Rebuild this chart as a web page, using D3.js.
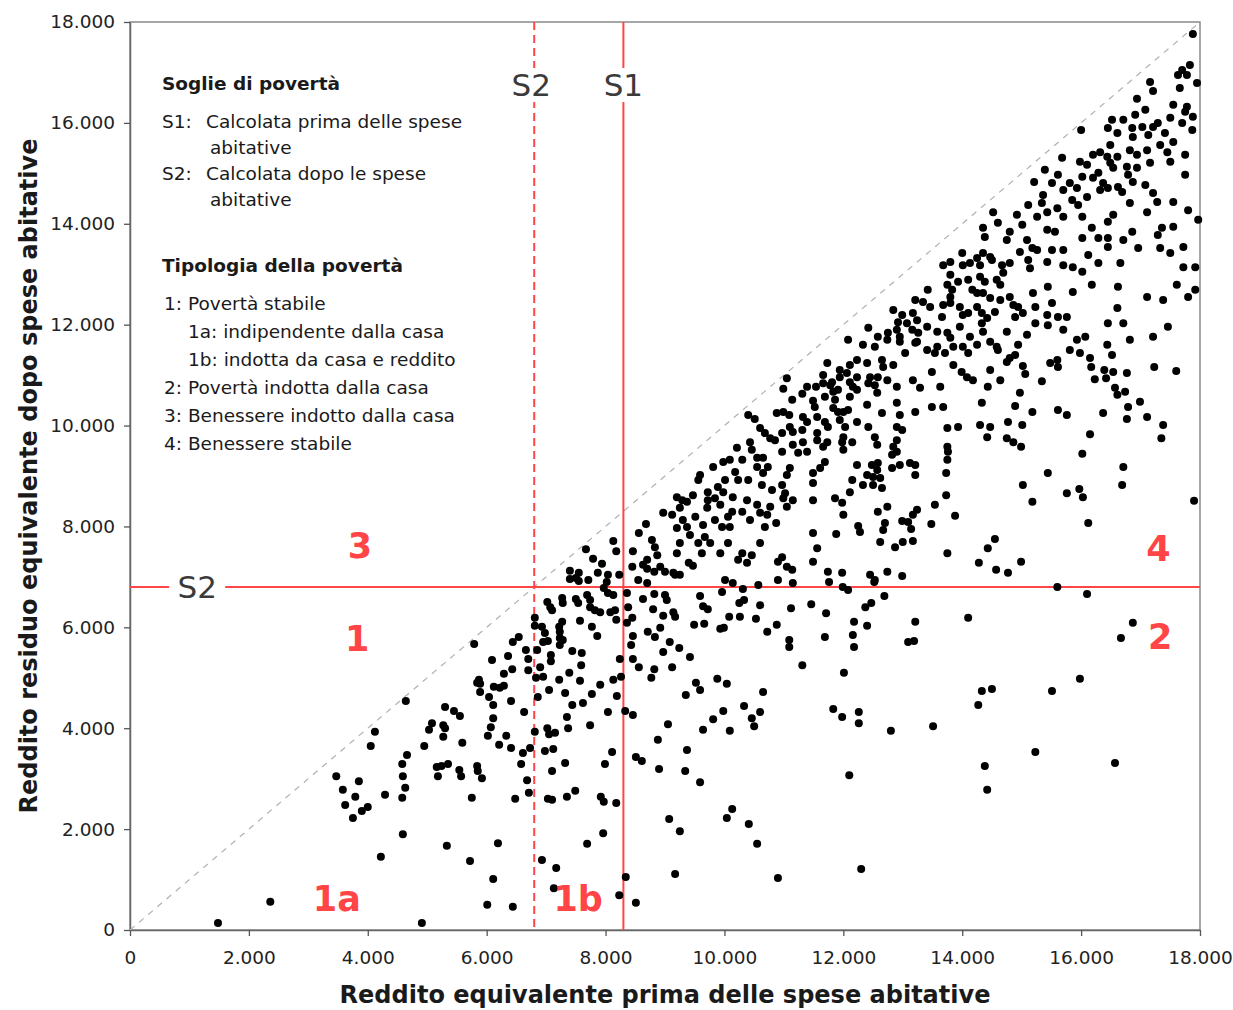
<!DOCTYPE html>
<html><head><meta charset="utf-8">
<script src="https://cdn.jsdelivr.net/npm/d3@7"></script>
<style>
body{margin:0;background:#fff}
text{font-family:"DejaVu Sans",Verdana,sans-serif}
</style>
</head><body>
<svg id="chart" width="1233" height="1010"></svg>
<script>
// ---- data (point values in thousands of euro) ----
const xTicks = [0,2000,4000,6000,8000,10000,12000,14000,16000,18000];
const yTicks = [0,2000,4000,6000,8000,10000,12000,14000,16000,18000];
const thresholdS1 = 8300;   // before housing costs
const thresholdS2 = 6800;   // after housing costs
const xTitle = "Reddito equivalente prima delle spese abitative";
const yTitle = "Reddito residuo equivalente dopo spese abitative";
const regionLabels = [
  {t:"3",x:3870,y:7630},{t:"4",x:17300,y:7570},{t:"1",x:3820,y:5790},
  {t:"2",x:17330,y:5830},{t:"1a",x:3480,y:630},{t:"1b",x:7540,y:630}
];
const legendLines = [
  {t:"Soglie di povertà",b:true,x:162,y:83},
  {t:"S1:",x:162,y:121},{t:"Calcolata prima delle spese",x:206,y:121},{t:"abitative",x:210,y:147},
  {t:"S2:",x:162,y:173},{t:"Calcolata dopo le spese",x:206,y:173},{t:"abitative",x:210,y:199},
  {t:"Tipologia della povertà",b:true,x:162,y:265},
  {t:"1: Povertà stabile",x:164,y:303},
  {t:"1a: indipendente dalla casa",x:188,y:331},
  {t:"1b: indotta da casa e reddito",x:188,y:359},
  {t:"2: Povertà indotta dalla casa",x:164,y:387},
  {t:"3: Benessere indotto dalla casa",x:164,y:415},
  {t:"4: Benessere stabile",x:164,y:443}
];
const points = [
[5.79,5.67],[6.09,5.35],[6.36,5.43],[6.44,5.71],[6.54,5.81],[6.66,5.55],[6.70,5.37],[6.70,5.15],[6.43,5.17],[6.29,5.08],[5.87,4.96],[5.89,4.88],[5.84,4.90],[5.89,4.72],[6.12,4.82],[6.22,4.80],[6.29,4.84],[6.04,4.62],[6.11,4.46],[6.41,4.54],[6.63,4.32],[6.11,4.20],[6.07,4.02],[6.02,3.85],[6.33,3.85],[6.21,3.67],[6.41,3.61],[6.61,3.51],[6.73,3.61],[6.58,3.29],[6.68,2.97],[6.71,2.72],[6.48,2.60],[5.75,2.62],[5.59,3.71],[5.30,4.42],[5.45,4.34],[5.55,4.24],[5.08,4.10],[5.03,3.97],[5.27,4.06],[5.30,4.00],[5.27,3.83],[4.95,3.65],[4.64,4.54],[4.12,3.93],[4.05,3.65],[4.66,3.47],[4.58,3.29],[4.59,3.05],[4.63,2.82],[4.58,2.62],[4.29,2.68],[5.16,3.23],[5.24,3.25],[5.18,3.05],[5.35,3.29],[5.54,3.17],[5.57,3.05],[5.84,3.25],[5.85,3.15],[5.92,3.01],[3.47,3.05],[3.85,2.95],[3.58,2.78],[3.79,2.64],[3.62,2.48],[3.90,2.36],[4.00,2.44],[3.75,2.22],[4.59,1.90],[4.22,1.45],[5.33,1.67],[5.72,1.37],[6.19,1.72],[6.11,1.01],[6.01,0.50],[6.44,0.46],[4.91,0.14],[6.93,1.39],[6.98,5.89],[6.93,6.01],[7.03,5.73],[6.85,5.55],[6.90,5.21],[6.83,5.00],[6.86,4.62],[6.81,3.93],[7.02,4.00],[7.05,3.88],[6.98,3.55],[7.03,2.60],[7.05,4.76],[1.48,0.14],[2.36,0.56],
[7.12,3.59],[7.10,3.15],[7.32,3.31],[7.10,2.58],[7.35,2.64],[7.49,2.76],[8.11,3.53],[7.99,3.29],[7.92,2.64],[7.97,2.54],[8.18,2.52],[7.96,1.92],[7.69,1.71],[8.51,3.43],[8.61,3.35],[8.88,3.77],[9.37,3.57],[8.90,3.19],[9.34,3.15],[9.59,2.93],[9.07,2.20],[9.25,1.96],[10.04,2.22],[10.13,2.40],[10.41,2.10],[10.55,1.71],[10.90,1.03],[9.17,1.11],[8.34,1.05],[8.23,0.69],[8.51,0.54],[7.17,1.23],[7.13,0.83],[12.10,3.07],[12.30,1.21],[14.38,3.25],[14.42,2.78],
[16.87,6.09],[16.67,5.79],[15.98,4.98],[15.51,4.74],[15.23,3.53],[16.57,3.31],
[10.01,6.94],[10.14,6.88],[10.31,6.76],[10.57,6.84],[10.90,6.94],[11.15,6.88],[11.76,6.90],[11.99,6.80],[12.08,6.74],[12.52,6.90],[9.96,6.70],[9.59,6.62],[9.64,6.42],[9.72,6.36],[10.25,6.48],[10.33,6.54],[10.60,6.44],[11.12,6.38],[11.46,6.46],[11.71,6.28],[12.37,6.40],[12.47,6.48],[12.69,6.62],[10.08,6.21],[10.26,6.21],[10.53,6.17],[9.66,6.07],[9.93,5.97],[9.99,5.99],[10.72,5.91],[10.88,6.05],[11.09,5.75],[11.09,5.61],[11.69,5.81],[12.18,6.11],[12.40,6.03],[12.16,5.85],[12.18,5.61],[13.21,6.11],[13.09,5.71],[13.19,5.73],[14.10,6.19],[11.31,5.25],[12.01,5.10],[9.88,4.98],[10.04,4.88],[9.59,4.76],[10.65,4.72],[10.33,4.44],[9.98,4.34],[9.81,4.18],[10.46,4.20],[10.50,4.04],[10.60,4.32],[9.64,3.97],[10.09,3.95],[11.83,4.38],[11.98,4.22],[12.26,4.32],[12.26,4.10],[12.80,3.95],[13.51,4.04],[14.33,4.74],[14.50,4.78],[14.27,4.46],
[7.40,7.12],[7.55,7.08],[7.50,6.98],[7.71,6.94],[7.87,7.08],[7.94,7.26],[8.04,7.04],[8.02,6.90],[8.23,7.04],[8.45,7.20],[8.63,7.24],[8.70,7.16],[8.55,6.94],[8.82,7.10],[8.92,7.20],[8.70,6.88],[9.14,7.08],[9.25,7.04],[9.40,7.28],[9.47,7.22],[7.97,6.78],[8.04,6.68],[8.13,6.64],[8.36,6.68],[7.69,6.64],[7.74,6.54],[7.27,6.58],[7.28,6.48],[7.02,6.50],[7.07,6.40],[7.10,6.34],[7.50,6.56],[7.54,6.48],[7.74,6.40],[7.82,6.34],[7.91,6.30],[8.08,6.30],[8.16,6.34],[8.18,6.15],[7.57,6.13],[7.27,6.11],[7.22,6.01],[7.23,5.91],[6.81,6.19],[6.81,6.03],[7.23,5.79],[7.28,5.75],[7.23,5.65],[6.95,5.71],[7.77,6.01],[7.86,5.83],[8.38,6.40],[8.45,6.19],[8.36,6.09],[8.63,6.56],[8.82,6.66],[9.00,6.64],[9.03,6.54],[8.80,6.36],[9.14,6.30],[9.17,6.21],[8.97,6.23],[8.71,5.91],[8.83,5.81],[8.92,5.99],[9.49,6.05],[8.46,5.83],[8.43,5.65],[9.08,5.71],[9.24,5.59],[8.97,5.51],[9.42,5.41],[8.46,5.37],[8.24,5.37],[8.56,5.21],[8.82,5.17],[9.12,5.21],[8.77,5.00],[9.52,4.90],[9.35,4.66],[6.95,5.02],[7.08,5.45],[7.08,5.33],[7.44,5.53],[7.60,5.49],[7.59,5.25],[7.39,5.10],[7.22,4.96],[7.57,4.94],[7.32,4.70],[7.77,4.68],[7.91,4.86],[8.13,4.96],[8.26,5.02],[8.19,4.64],[7.44,4.46],[7.62,4.50],[8.04,4.32],[8.33,4.34],[8.46,4.26],[7.35,4.22],[7.74,4.06],[7.37,4.00],[7.15,3.91],[9.05,4.08],
[7.67,7.55],[8.13,7.71],[8.18,7.51],[7.79,7.36],[7.40,6.96],[7.55,6.92],[8.46,7.51],[8.56,7.87],[8.68,8.05],[8.70,7.34],
[10.99,10.73],[11.39,10.77],[11.54,10.77],[11.66,10.84],[11.78,10.80],[11.69,10.57],[11.49,10.49],[11.31,10.63],[11.14,10.51],[11.86,10.51],[11.83,10.35],[11.91,10.27],[12.00,10.27],[11.83,10.67],[10.40,10.21],[10.51,10.13],[10.88,10.25],[10.99,10.27],[11.09,10.21],[11.32,10.17],[11.39,10.07],[11.56,10.17],[11.69,10.07],[11.74,9.97],[11.94,10.11],[12.03,9.97],[10.60,9.95],[10.68,9.85],[10.77,9.75],[10.85,9.71],[10.97,9.85],[11.10,9.97],[11.15,9.87],[11.31,9.91],[11.56,9.85],[11.56,9.71],[11.73,9.67],[11.98,9.67],[12.00,9.52],[10.43,9.67],[10.46,9.52],[10.21,9.56],[11.15,9.62],[11.32,9.67],[10.97,9.48],[11.24,9.46],[11.39,9.48],[10.55,9.36],[10.65,9.36],[9.98,9.28],[10.09,9.32],[10.30,9.32],[10.73,9.18],[10.55,9.18],[9.81,9.18],[10.18,9.08],[10.65,9.06],[11.10,9.16],[11.05,9.02],[11.61,9.16],[11.49,9.06],[11.69,9.28],[9.59,9.02],[9.56,8.92],[10.01,8.92],[10.23,8.92],[10.40,8.92],[9.89,8.78],[9.98,8.68],[9.72,8.68],[10.63,8.82],[10.80,8.72],[10.97,8.82],[11.02,8.66],[10.99,8.56],[11.49,8.86],[9.20,8.58],[9.29,8.52],[9.37,8.49],[9.47,8.62],[9.72,8.52],[9.84,8.56],[10.14,8.58],[9.93,8.43],[10.38,8.52],[10.55,8.43],[10.60,8.27],[10.77,8.39],[10.30,8.29],[10.43,8.13],[10.13,8.29],[11.05,8.39],[11.15,8.52],[11.49,8.52],[11.86,8.56],[11.98,8.47],[12.00,8.23],[8.97,8.27],[9.12,8.23],[9.25,8.37],[9.30,8.13],[9.51,8.19],[9.71,8.37],[9.84,8.13],[9.96,7.99],[10.06,8.19],[10.09,7.99],[10.72,8.23],[10.68,7.99],[10.87,8.07],[9.20,7.97],[9.37,7.99],[9.64,8.03],[9.67,7.79],[9.42,7.83],[8.78,7.73],[8.83,7.59],[9.25,7.67],[9.20,7.47],[9.56,7.67],[9.76,7.67],[10.06,7.67],[9.93,7.47],[9.62,7.47],[10.30,7.47],[10.23,7.34],[10.38,7.28],[10.46,7.43],[10.60,7.67],[10.97,7.39],[10.90,7.30],[11.05,7.20],[11.14,7.14],[11.49,7.87],[11.88,7.85],[11.56,7.57],[11.49,7.30],[11.74,7.10],[11.98,7.08],[9.00,7.10],[9.17,7.04],[8.87,7.43],
[12.23,9.22],[12.48,9.22],[12.58,9.26],[12.57,9.12],[12.40,9.02],[12.50,8.98],[12.62,8.96],[12.15,8.92],[12.33,8.82],[12.50,8.82],[12.65,8.76],[12.11,8.68],[12.82,9.42],[12.90,9.48],[12.82,9.16],[12.95,9.22],[13.12,9.26],[13.21,9.22],[13.21,9.02],[13.76,9.48],[13.75,9.32],[13.73,9.06],[13.73,8.62],[13.54,8.43],[13.88,8.21],[12.58,8.29],[12.74,8.39],[13.24,8.33],[13.17,8.23],[13.09,8.09],[13.14,7.95],[12.99,8.11],[13.48,8.05],[12.25,8.01],[12.28,7.89],[12.70,8.07],[12.67,7.93],[12.62,7.69],[12.87,7.59],[13.00,7.69],[13.17,7.71],[13.75,7.47],[14.55,7.75],[14.43,7.57],[14.28,7.28],[14.57,7.14],[12.74,7.10],[12.99,7.02],[12.45,7.04],[12.53,6.94],
[14.75,11.26],[14.80,11.34],[14.89,11.40],[15.02,11.18],[15.06,11.02],[14.64,10.90],[15.34,10.88],[15.48,11.24],[15.60,11.30],[15.61,11.16],[15.81,11.50],[15.98,11.44],[16.15,11.34],[16.17,11.16],[16.23,10.92],[16.39,11.10],[16.42,10.94],[16.52,11.40],[16.54,11.06],[16.77,11.04],[16.57,10.75],[16.74,10.67],[16.61,10.61],[16.99,10.47],[16.79,10.37],[16.77,10.13],[17.11,10.17],[17.23,11.16],[17.60,11.08],[17.38,10.01],[17.35,9.75],[16.37,10.25],[16.15,9.83],[16.02,9.44],[14.97,10.65],[14.89,10.39],[15.18,10.27],[15.61,10.31],[15.76,10.21],[14.77,10.07],[15.01,10.01],[14.75,9.75],[14.86,9.67],[14.99,9.58],[15.44,9.06],[15.02,8.82],[15.18,8.49],[15.76,8.66],[15.97,8.74],[16.03,8.58],[16.71,9.18],[16.69,8.82],[16.12,8.07],[17.90,8.51],[14.99,7.30],[14.77,7.08],[15.60,6.80],[16.10,6.66],
[14.00,13.42],[13.68,13.18],[13.80,13.24],[14.01,13.18],[14.13,13.22],[14.25,13.32],[14.35,13.42],[14.47,13.34],[13.80,12.99],[13.75,12.79],[13.83,12.69],[14.10,12.89],[14.30,12.95],[14.38,12.85],[14.17,12.69],[14.35,12.63],[14.47,12.53],[14.58,12.89],[13.42,12.69],[13.21,12.49],[13.34,12.45],[13.46,12.35],[13.66,12.15],[13.80,12.43],[13.96,12.35],[14.01,12.19],[14.25,12.35],[14.33,12.23],[14.42,12.13],[12.84,12.29],[12.92,12.05],[13.17,12.23],[13.24,12.09],[13.07,12.03],[13.16,11.90],[13.41,11.96],[13.75,11.84],[13.80,11.74],[13.96,11.96],[14.13,11.76],[14.35,11.86],[14.01,11.56],[14.10,11.44],[14.47,11.66],[12.42,11.94],[12.58,11.76],[12.75,11.84],[12.74,11.70],[12.90,11.90],[12.95,11.66],[13.24,11.66],[13.41,11.50],[13.58,11.56],[13.71,11.44],[12.08,11.70],[12.33,11.60],[12.53,11.56],[13.04,11.44],[13.54,11.44],[11.73,11.24],[12.23,11.30],[12.40,11.24],[12.65,11.30],[12.67,11.16],[12.84,11.20],[11.94,11.10],[12.06,11.04],[12.11,11.20],[11.66,11.00],[11.81,10.86],[11.94,10.96],[12.23,10.96],[12.45,10.96],[12.58,10.96],[12.74,10.90],[12.11,10.86],[12.16,10.77],[12.23,10.71],[12.42,10.84],[12.53,10.80],[11.05,10.94],[11.91,10.71],[12.11,10.57],[12.57,10.65],[12.90,10.77],[13.17,10.90],[13.29,10.75],[13.49,11.06],[13.63,10.77],[13.85,11.20],[13.99,11.06],[14.08,10.96],[14.18,10.90],[14.43,10.77],[14.47,11.10],[14.60,11.50],[11.52,10.37],[12.08,10.31],[12.40,10.41],[12.23,10.07],[12.42,9.97],[12.65,10.25],[12.90,10.45],[12.95,10.21],[12.90,9.97],[13.21,10.27],[13.49,10.37],[13.68,10.37],[14.33,10.45],[14.30,10.01],[14.47,9.97],[14.42,9.77],[13.93,9.97],[13.75,9.95],[12.99,9.91],[12.90,9.71],[12.84,9.58],[12.53,9.77],[12.57,9.62],[11.66,9.58],[12.00,9.77],[12.15,9.67],[13.75,9.58],
[15.68,15.31],[15.39,15.07],[15.61,14.97],[15.21,14.83],[15.51,14.81],[15.81,14.81],[15.93,14.71],[16.02,14.93],[15.98,15.23],[16.10,15.17],[16.20,15.37],[16.32,15.42],[16.44,15.33],[16.49,15.21],[16.54,15.11],[16.29,15.01],[16.37,14.81],[16.45,14.71],[16.69,14.63],[16.82,15.46],[16.94,15.37],[17.11,15.46],[16.77,15.13],[16.94,15.11],[17.16,15.21],[16.87,14.83],[17.08,14.77],[17.21,14.61],[17.28,14.43],[16.82,14.41],[17.45,15.42],[17.50,15.23],[17.75,15.37],[17.55,14.43],[17.80,14.27],[17.97,14.08],[17.11,14.23],[17.36,13.92],[17.29,13.78],[17.55,13.94],[16.86,13.84],[16.96,13.52],[17.33,13.52],[17.72,13.54],[17.50,13.42],[17.72,13.14],[17.92,13.14],[16.66,13.22],[16.29,13.22],[16.54,14.18],[16.45,14.04],[16.18,13.92],[16.29,13.72],[16.45,13.72],[16.45,13.54],[16.71,13.68],[16.02,13.72],[16.12,13.38],[15.70,13.48],[15.86,13.14],[16.02,13.05],[15.70,13.18],[16.18,12.79],[15.86,12.65],[16.62,12.75],[16.61,12.33],[17.11,12.55],[17.38,12.49],[17.61,12.79],[17.80,12.55],[17.92,12.69],[16.45,12.03],[16.71,12.03],[17.46,11.96],[17.21,11.76],[16.82,11.70],[16.44,11.60],[16.07,11.76],[15.93,11.70],[15.70,11.90],[15.76,12.15],[15.61,12.15],[15.51,12.43],[15.23,12.35],[15.43,12.19],[15.44,11.99],[15.23,12.03],[15.44,12.75],[15.19,12.63],[14.94,12.35],[15.02,12.23],[14.80,12.55],[14.64,12.49],[14.89,12.15],[14.75,11.86],[14.94,11.60],[15.09,11.80],[14.58,11.56],[15.36,14.57],[15.34,14.41],[15.43,14.23],[15.11,14.37],[15.26,14.14],[15.60,14.31],[15.70,14.14],[15.85,14.47],[15.95,14.37],[16.10,14.53],[16.02,14.14],[15.70,14.67],[15.01,13.98],[15.43,13.88],[15.56,13.84],[14.92,14.18],[14.52,14.23],[14.60,14.02],[14.35,13.92],[14.38,13.74],[14.80,13.84],[15.09,13.68],[15.18,13.52],[14.75,13.68],[14.97,13.44],[14.80,13.22],[15.11,13.28],[15.14,13.12],[15.26,13.48],[15.43,13.24],[15.51,13.48],[14.30,13.18],[14.50,13.28],[14.67,13.18],[13.93,12.85],[14.69,13.03],[14.64,12.79],[13.80,12.55],[14.25,12.63],[13.68,12.39],[14.10,12.23],[14.55,12.25],[14.86,12.39],[12.99,12.19],[13.58,11.86],[14.33,12.03],[13.26,11.84],[13.21,11.64],[12.95,11.76],[13.85,11.56],[14.25,11.60],
[17.88,17.76],[17.83,17.15],[17.70,17.05],[17.63,16.95],[17.78,16.95],[17.95,16.79],[17.16,16.81],[17.21,16.63],[17.66,16.69],[16.94,16.48],[17.55,16.36],[17.78,16.32],[17.75,16.22],[17.88,16.12],[17.08,16.26],[17.50,16.10],[16.91,16.16],[16.52,16.06],[16.71,16.06],[16.86,15.90],[17.03,15.92],[17.21,15.92],[17.29,16.00],[17.70,16.00],[17.87,15.86],[16.45,15.90],[16.00,15.86],[16.61,15.80],[16.87,15.72],[17.13,15.76],[17.41,15.80],[17.55,15.62],[16.49,15.56],[17.33,15.56],[16.61,15.33],[16.20,14.91],[16.79,14.97],[16.32,14.67],[16.62,14.73],[17.75,14.97]
];

// ---- chart ----
const svg = d3.select("#chart");
const x = d3.scaleLinear().domain([0,18000]).range([130,1200]);
const y = d3.scaleLinear().domain([0,18000]).range([930,22]);
const it = d3.formatLocale({decimal:",",thousands:".",grouping:[3],currency:["€",""]});
const fmt = it.format(",.0f");
const red = "#ff4545";

// plot frame
svg.append("rect").attr("x",x(0)).attr("y",y(18000))
  .attr("width",x(18000)-x(0)).attr("height",y(0)-y(18000))
  .attr("fill","#fff").attr("stroke","#8a8a8a").attr("stroke-width",1.5);

// axes
const gx = svg.append("g").attr("transform",`translate(0,${y(0)})`)
  .call(d3.axisBottom(x).tickValues(xTicks).tickFormat(fmt).tickSize(6).tickSizeOuter(0));
gx.selectAll("text").attr("y",28).attr("dy","0.35em");
const gy = svg.append("g").attr("transform",`translate(${x(0)},0)`)
  .call(d3.axisLeft(y).tickValues(yTicks).tickFormat(fmt).tickSize(6).tickSizeOuter(0).tickPadding(9));
[gx,gy].forEach(g=>{
  g.select(".domain").attr("stroke","#666").attr("stroke-width",1.5);
  g.selectAll(".tick line").attr("stroke","#555").attr("stroke-width",1.3);
  g.selectAll("text").attr("font-size",18.5).attr("fill","#222")
    .attr("font-family","'DejaVu Sans',Verdana,sans-serif");
});

// diagonal
svg.append("line").attr("x1",x(0)).attr("y1",y(0)).attr("x2",x(18000)).attr("y2",y(18000))
  .attr("stroke","#b0b0b0").attr("stroke-width",1.2).attr("stroke-dasharray","6,6");

// threshold lines
svg.append("line").attr("x1",x(thresholdS2)).attr("x2",x(thresholdS2)).attr("y1",y(18000)).attr("y2",y(0))
  .attr("stroke",red).attr("stroke-width",2).attr("stroke-dasharray","8,5");
svg.append("line").attr("x1",x(thresholdS1)).attr("x2",x(thresholdS1)).attr("y1",y(18000)).attr("y2",y(0))
  .attr("stroke",red).attr("stroke-width",2);
svg.append("line").attr("x1",x(0)).attr("x2",x(18000)).attr("y1",y(thresholdS2)).attr("y2",y(thresholdS2))
  .attr("stroke",red).attr("stroke-width",2);

// points
svg.append("g").selectAll("circle").data(points).join("circle")
  .attr("cx",d=>x(d[0]*1000)).attr("cy",d=>y(d[1]*1000)).attr("r",4).attr("fill","#000");

// threshold labels with white background
const sLabels = [
  {t:"S2",x:x(thresholdS2)-3,y:y(16750)},
  {t:"S1",x:x(thresholdS1),y:y(16750)},
  {t:"S2",x:x(1130),y:y(thresholdS2)}
];
sLabels.forEach(s=>{
  svg.append("rect").attr("x",s.x-28).attr("y",s.y-17).attr("width",56).attr("height",34).attr("fill","#fff");
  svg.append("text").attr("x",s.x).attr("y",s.y).attr("dy","0.36em").attr("text-anchor","middle")
    .attr("font-family","'Liberation Sans',Arial,sans-serif").attr("font-size",31).attr("fill","#3a3a3a").text(s.t);
});

// region labels
svg.append("g").selectAll("text").data(regionLabels).join("text")
  .attr("x",d=>x(d.x)).attr("y",d=>y(d.y)).attr("dy","0.36em").attr("text-anchor","middle")
  .attr("font-family","'Liberation Sans',Arial,sans-serif").attr("font-weight","bold")
  .attr("font-size",35).attr("fill",red).text(d=>d.t);

// legend text
svg.append("g").selectAll("text").data(legendLines).join("text")
  .attr("x",d=>d.x).attr("y",d=>d.y).attr("dy","0.36em")
  .attr("font-size",18.5).attr("font-weight",d=>d.b?"bold":"normal")
  .attr("fill","#1a1a1a").text(d=>d.t);

// axis titles
svg.append("text").attr("x",(x(0)+x(18000))/2).attr("y",994).attr("dy","0.36em")
  .attr("text-anchor","middle").attr("font-weight","bold").attr("font-size",24).attr("fill","#1a1a1a").text(xTitle);
svg.append("text").attr("transform",`translate(28,${(y(0)+y(18000))/2}) rotate(-90)`).attr("dy","0.36em")
  .attr("text-anchor","middle").attr("font-weight","bold").attr("font-size",24).attr("fill","#1a1a1a").text(yTitle);
</script>
</body></html>
